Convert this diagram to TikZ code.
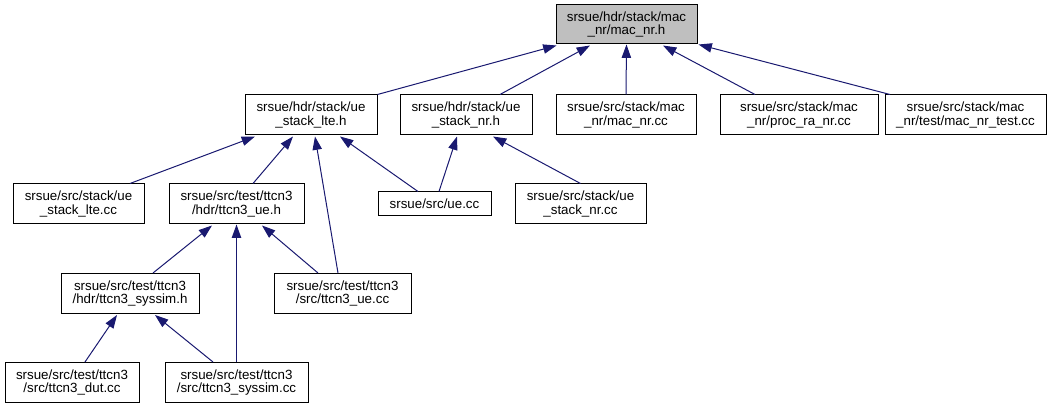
\documentclass[tikz,border=0pt]{standalone}
\usepackage{fontspec}
\setmainfont{Liberation Sans}
\definecolor{DoxNavy}{RGB}{25,25,112}
\definecolor{DoxGray}{RGB}{191,191,191}
\usetikzlibrary{
    arrows.meta,
    calc,
}

\begin{document}
\begin{tikzpicture}[
        x=0.75pt, y=-0.75pt,
        file/.style={rectangle, draw=black, line width=0.75pt, fill=#1, inner sep=0pt, align=center,
            minimum height=30pt, font=\fontsize{10}{10}\selectfont},
        file/.default=white,
        incl/.style={-{Triangle[length=10pt, width=7pt]}, line width=0.75pt, DoxNavy},
    ]
        \useasboundingbox (0,0) rectangle (1051,409);
        % top row
        \node[file=DoxGray, minimum width=105.75pt, minimum height=29.25pt] (root) at (626.5,24.5) {srsue/hdr/stack/mac\\\_nr/mac\_nr.h};
        % second row
        \node[file, minimum width=99pt] (lteh) at (311,115) {srsue/hdr/stack/ue\\\_stack\_lte.h};
        \node[file, minimum width=99pt] (nrh) at (466,115) {srsue/hdr/stack/ue\\\_stack\_nr.h};
        \node[file, minimum width=105pt] (maccc) at (626,115) {srsue/src/stack/mac\\\_nr/mac\_nr.cc};
        \node[file, minimum width=118.5pt] (raccc) at (799,115) {srsue/src/stack/mac\\\_nr/proc\_ra\_nr.cc};
        \node[file, minimum width=120.75pt] (testcc) at (965.5,115) {srsue/src/stack/mac\\\_nr/test/mac\_nr\_test.cc};
        % third row
        \node[file, minimum width=98.25pt] (ltecc) at (78.5,204) {srsue/src/stack/ue\\\_stack\_lte.cc};
        \node[file, minimum width=101.25pt] (tueh) at (236.5,204) {srsue/src/test/ttcn3\\/hdr/ttcn3\_ue.h};
        \node[file, minimum width=84.75pt, minimum height=18pt] (uecc) at (434.5,204) {srsue/src/ue.cc};
        \node[file, minimum width=98.25pt] (nrcc) at (580.5,204) {srsue/src/stack/ue\\\_stack\_nr.cc};
        % fourth row
        \node[file, minimum width=103.5pt] (tsysh) at (130,293.5) {srsue/src/test/ttcn3\\/hdr/ttcn3\_syssim.h};
        \node[file, minimum width=102.75pt] (tuecc) at (342.5,293.5) {srsue/src/test/ttcn3\\/src/ttcn3\_ue.cc};
        % bottom row
        \node[file, minimum width=100.5pt] (tdutcc) at (72,382.5) {srsue/src/test/ttcn3\\/src/ttcn3\_dut.cc};
        \node[file, minimum width=107.25pt] (tsyscc) at (236.5,382.5) {srsue/src/test/ttcn3\\/src/ttcn3\_syssim.cc};

        % includes of mac_nr.h
        \draw[incl] (lteh.north east) -- ($(root.south west)+(1,1)$);
        \draw[incl] ($(nrh.north)+(34,0)$) -- ($(root.south)+(-36.5,1)$);
        \draw[incl] (maccc.north) -- (root.south);
        \draw[incl] ($(raccc.north)+(-44,0)$) -- ($(root.south)+(36.5,1)$);
        \draw[incl] ($(testcc.north)+(-75.5,0)$) -- ($(root.south east)+(1,0)$);
        % includes of ue_stack_lte.h
        \draw[incl] ($(ltecc.north)+(51.5,0)$) -- ($(lteh.south)+(-56,1)$);
        \draw[incl] ($(tueh.north)+(16.5,0)$) -- ($(lteh.south)+(-18,1)$);
        \draw[incl] ($(tuecc.north)+(-4.5,0)$) -- ($(lteh.south)+(4,1)$);
        \draw[incl] ($(uecc.north)+(-16.5,0)$) -- ($(lteh.south)+(29,1)$);
        % includes of ue_stack_nr.h
        \draw[incl] ($(uecc.north)+(4.5,0)$) -- ($(nrh.south)+(-9,1)$);
        \draw[incl] (nrcc.north) -- ($(nrh.south)+(27,1)$);
        % includes of ttcn3_ue.h
        \draw[incl] ($(tsysh.north)+(23,0)$) -- ($(tueh.south)+(-24.5,1)$);
        \draw[incl] (tsyscc.north) -- (tueh.south);
        \draw[incl] ($(tuecc.north)+(-24.5,0)$) -- ($(tueh.south)+(25.5,1)$);
        % includes of ttcn3_syssim.h
        \draw[incl] ($(tdutcc.north)+(13,0)$) -- ($(tsysh.south)+(-13,1)$);
        \draw[incl] ($(tsyscc.north)+(-23.5,0)$) -- ($(tsysh.south)+(25,1)$);
    \end{tikzpicture}
\end{document}
